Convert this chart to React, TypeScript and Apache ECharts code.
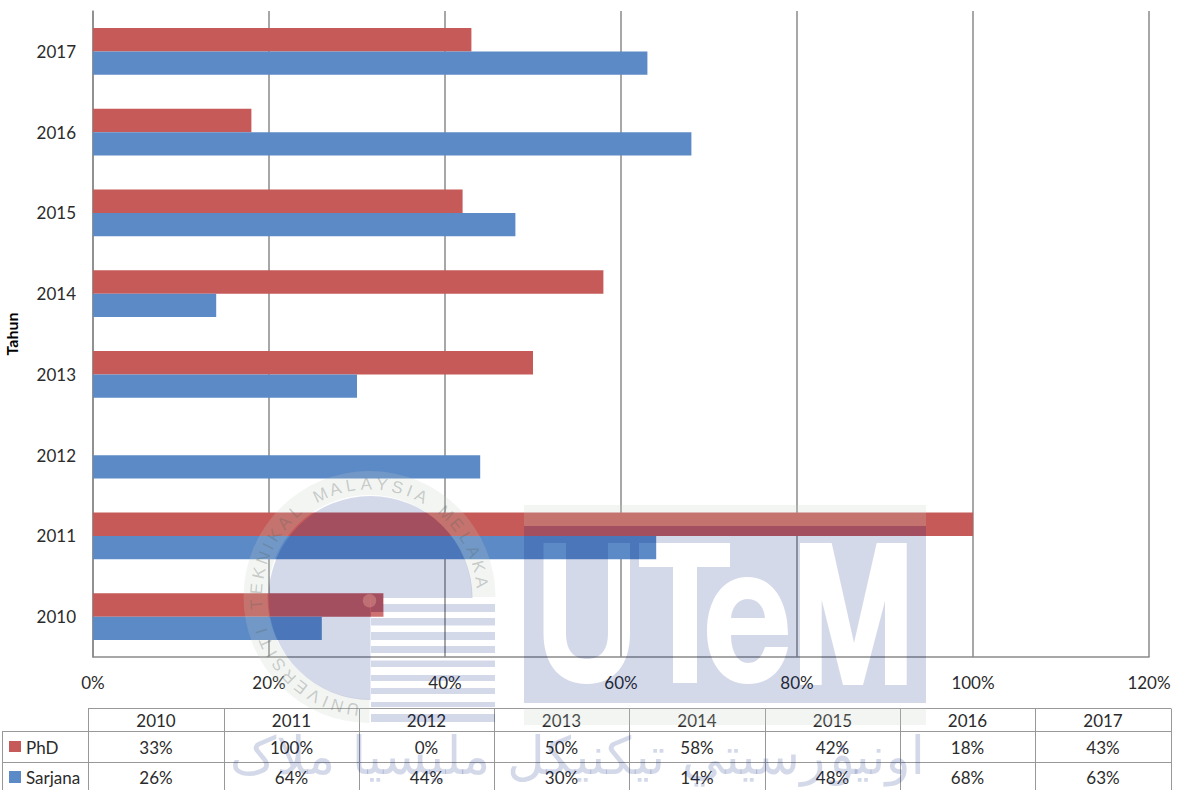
import React, { useEffect, useRef } from "react";
import * as echarts from "echarts";

const years = ["2010", "2011", "2012", "2013", "2014", "2015", "2016", "2017"];
const phd = [33, 100, 0, 50, 58, 42, 18, 43];
const sarjana = [26, 64, 44, 30, 14, 48, 68, 63];
const xTicks = { min: 0, max: 120, interval: 20 };
const sealText = "UNIVERSITI TEKNIKAL MALAYSIA MELAKA";
const jawiText = "اونيۏرسيتي تيکنيکل مليسيا ملاک";

const RED = "#c55a58";
const BLUE = "#5b8ac6";
const GRID = "#8a8a8a";
const TEXT = "#2b2b2b";
const FONT = "Lato, Carlito, sans-serif";
const NAVY = "rgba(0,30,130,0.17)";
const PALE = "rgba(200,208,200,0.21)";
const SEAL_TEXT = "rgba(90,100,95,0.3)";

const utemPath =
  "M524 526 L926 526 L926 703 L524 703 Z " +
  "M543.5 543 L543.5 633 C543.5 665 560 684 587 684 C614 684 630 665 630 633 L630 543 L608 543 L608 633 C608 651 600 659 587 659 C574 659 566 651 566 633 L566 543 Z " +
  "M639 543 L639 567 L673 567 L673 683 L697 683 L697 567 L730 567 L730 543 Z " +
  "M788 635 C788 600 772 577 747.5 577 C722 577 707 601 707 631 C707 661 722 684 748 684 C768 684 783 672 788 647 L765 647 C762 657 756 663 748 663 C738 663 731 652 731 635 Z " +
  "M731 618 C732 606 739 599 748 599 C757 599 764 606 765 618 Z " +
  "M800 543 L800 685 L821.7 685 L821.7 600 L843 685 L863 685 L885 601 L885 685 L906.7 685 L906.7 543 L876.7 543 L854 643 L831.7 543 Z";

echarts.graphic.registerShape("utem", echarts.graphic.extendPath(utemPath, {}));

const stripeRows = [
  [604, 8], [618, 7.5], [632, 8], [646, 7], [660.5, 6.5], [675, 6], [688, 6], [702, 5], [714, 8],
];

function sealLetters() {
  const cx = 369.5;
  const cy = 597;
  const r = 113;
  const weight = (c: string) => (c === "I" ? 0.6 : c === " " ? 0.9 : 1);
  const chars = sealText.split("");
  const total = chars.reduce((s, c) => s + weight(c), 0) - weight(chars[0]) / 2 - weight(chars[chars.length - 1]) / 2;
  const start = 188.5;
  const end = 442.4;
  let acc = 0;
  return chars.map((c, i) => {
    if (i > 0) acc += (weight(chars[i - 1]) + weight(c)) / 2;
    const deg = start + ((end - start) * acc) / total;
    const t = (deg * Math.PI) / 180;
    return {
      type: "text",
      z: 101,
      x: cx + r * Math.sin(t),
      y: cy - r * Math.cos(t),
      rotation: -t,
      silent: true,
      style: { text: c, fill: SEAL_TEXT, font: `17px 'Liberation Sans', sans-serif`, align: "center", verticalAlign: "middle" },
    };
  });
}

function watermark() {
  const els: any[] = [
    { type: "sector", z: 100, silent: true, shape: { cx: 369.5, cy: 597, r0: 102, r: 126, startAngle: Math.PI / 2, endAngle: Math.PI * 2, clockwise: true }, style: { fill: PALE } },
    { type: "sector", z: 100, silent: true, shape: { cx: 370.5, cy: 598, r0: 0, r: 102, startAngle: Math.PI / 2, endAngle: Math.PI * 2, clockwise: true }, style: { fill: NAVY } },
    { type: "rect", z: 100, silent: true, shape: { x: 524, y: 505, width: 402, height: 21 }, style: { fill: PALE } },
    { type: "rect", z: 100, silent: true, shape: { x: 524, y: 708, width: 402, height: 17 }, style: { fill: PALE } },
    { type: "utem", z: 100, silent: true, x: 0, y: 0, style: { fill: NAVY } },
    { type: "rect", z: 100, silent: true, shape: { x: 371, y: 598, width: 12, height: 6 }, style: { fill: NAVY } },
    { type: "rect", z: 100, silent: true, shape: { x: 371, y: 612, width: 12, height: 6 }, style: { fill: "rgba(255,255,255,0.15)" } },
    { type: "circle", z: 102, silent: true, shape: { cx: 369.5, cy: 600.7, r: 6.7 }, style: { fill: "rgba(255,190,170,0.3)" } },
  ];
  stripeRows.forEach(([y, h]) => {
    els.push({ type: "rect", z: 100, silent: true, shape: { x: 371, y, width: 124, height: h }, style: { fill: NAVY } });
  });
  els.push(...sealLetters());
  els.push({
    type: "text",
    z: 100,
    silent: true,
    x: 925,
    y: 756,
    style: { text: jawiText, fill: NAVY, font: "52px 'DejaVu Sans', sans-serif", align: "right", verticalAlign: "middle" },
  });
  return els;
}

function table() {
  const els: any[] = [];
  const colX = [88, 224, 359, 494, 629, 765, 900, 1035, 1171];
  const rowY = [708.5, 731.5, 762.5];
  const line = (x1: number, y1: number, x2: number, y2: number) => ({
    type: "line",
    z: 50,
    silent: true,
    shape: { x1, y1, x2, y2 },
    style: { stroke: "#989898", lineWidth: 1 },
  });
  const label = (s: string, x: number, y: number, align = "center") => ({
    type: "text",
    z: 51,
    silent: true,
    x,
    y,
    style: { text: s, fill: TEXT, font: `17px ${FONT}`, align, verticalAlign: "middle" },
  });
  els.push(line(88, rowY[0], 1171, rowY[0]));
  els.push(line(2, rowY[1], 1171, rowY[1]));
  els.push(line(2, rowY[2], 1171, rowY[2]));
  els.push(line(2.5, rowY[1], 2.5, 790));
  colX.forEach((x) => els.push(line(x + 0.5, rowY[0], x + 0.5, 790)));
  years.forEach((y, i) => {
    const cx = (colX[i] + colX[i + 1]) / 2;
    els.push(label(y, cx, 720));
    els.push(label(`${phd[i]}%`, cx, 747));
    els.push(label(`${sarjana[i]}%`, cx, 777));
  });
  els.push({ type: "rect", z: 51, silent: true, shape: { x: 9, y: 741, width: 12, height: 11 }, style: { fill: RED } });
  els.push({ type: "rect", z: 51, silent: true, shape: { x: 9, y: 771, width: 12, height: 12 }, style: { fill: BLUE } });
  els.push(label("PhD", 26, 747, "left"));
  els.push(label("Sarjana", 26, 777, "left"));
  return els;
}

export default function App() {
  const ref = useRef<HTMLDivElement>(null);
  useEffect(() => {
    document.body.style.margin = "0";
    const chart = echarts.init(ref.current!, null, { renderer: "svg" });
    chart.setOption({
      animation: false,
      backgroundColor: "#ffffff",
      grid: { left: 93, top: 11, width: 1056, height: 646, containLabel: false, outerBoundsMode: "none" },
      xAxis: {
        type: "value",
        min: xTicks.min,
        max: xTicks.max,
        interval: xTicks.interval,
        axisLine: { show: true, lineStyle: { color: GRID, width: 1.5 } },
        axisTick: { show: false },
        splitLine: { show: true, lineStyle: { color: GRID, width: 1.5 } },
        axisLabel: { color: TEXT, fontFamily: FONT, fontSize: 17, margin: 17, formatter: "{value}%" },
      },
      yAxis: {
        type: "category",
        data: years,
        name: "Tahun",
        nameLocation: "middle",
        nameGap: 74,
        nameTextStyle: { color: "#000", fontFamily: FONT, fontWeight: "bold", fontSize: 16 },
        axisLine: { show: true, lineStyle: { color: GRID, width: 1.5 } },
        axisTick: { show: false },
        axisLabel: { color: TEXT, fontFamily: FONT, fontSize: 17, margin: 17 },
      },
      series: [
        { name: "PhD", type: "bar", data: phd, barGap: 0, barCategoryGap: "42%", itemStyle: { color: RED } },
        { name: "Sarjana", type: "bar", data: sarjana, barGap: 0, barCategoryGap: "42%", itemStyle: { color: BLUE } },
      ],
      graphic: { elements: [...table(), ...watermark()] },
    });
    return () => chart.dispose();
  }, []);
  return <div ref={ref} style={{ position: "absolute", left: 0, top: 0, width: 1180, height: 790, overflow: "hidden" }} />;
}
